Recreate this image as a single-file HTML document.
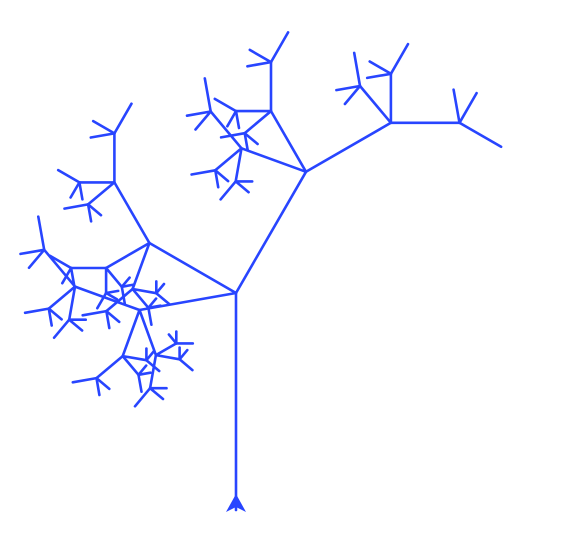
<!DOCTYPE html>
<html><head><meta charset="utf-8"><style>
html,body{margin:0;padding:0;background:#fff;width:568px;height:554px;overflow:hidden}
svg{display:block}
</style></head><body>
<svg id="chart" width="568" height="554" viewBox="0 0 568 554" xmlns="http://www.w3.org/2000/svg">
<g id="tree" stroke="#2845ff" stroke-width="2.6" stroke-linecap="round" fill="none"></g>
<path d="M236,494 L246,512 L236,507 L226,512 Z" fill="#2845ff"/>
</svg>
<script>
// branching rule data
const branchAngles = [-30, 60, 100];   // degrees rotation relative to parent heading
const branchScales = [0.70, 0.50, 0.49]; // length ratio relative to parent
const baseLength = 200;
const trunkBottom = [236, 510];
const trunkTop = [236, 293];
const depthLevels = 4;

const g = document.getElementById('tree');
function line(x1,y1,x2,y2,name){
  const l = document.createElementNS('http://www.w3.org/2000/svg','line');
  l.setAttribute('x1',x1.toFixed(1));l.setAttribute('y1',y1.toFixed(1));
  l.setAttribute('x2',x2.toFixed(1));l.setAttribute('y2',y2.toFixed(1));
  
  
  g.appendChild(l);
}
line(trunkBottom[0],trunkBottom[1],trunkTop[0],trunkTop[1],'trunk');
function grow(x,y,heading,len,depth){
  if(depth<=0) return;
  for(let i=0;i<branchAngles.length;i++){
    const h = heading + branchAngles[i];
    const L = len*branchScales[i];
    const r = h*Math.PI/180;
    const nx = x + L*Math.cos(r), ny = y - L*Math.sin(r);
    line(x,y,nx,ny,'branch');
    grow(nx,ny,h,L,depth-1);
  }
}
grow(trunkTop[0],trunkTop[1],90,baseLength,depthLevels);
</script>
</body></html>
